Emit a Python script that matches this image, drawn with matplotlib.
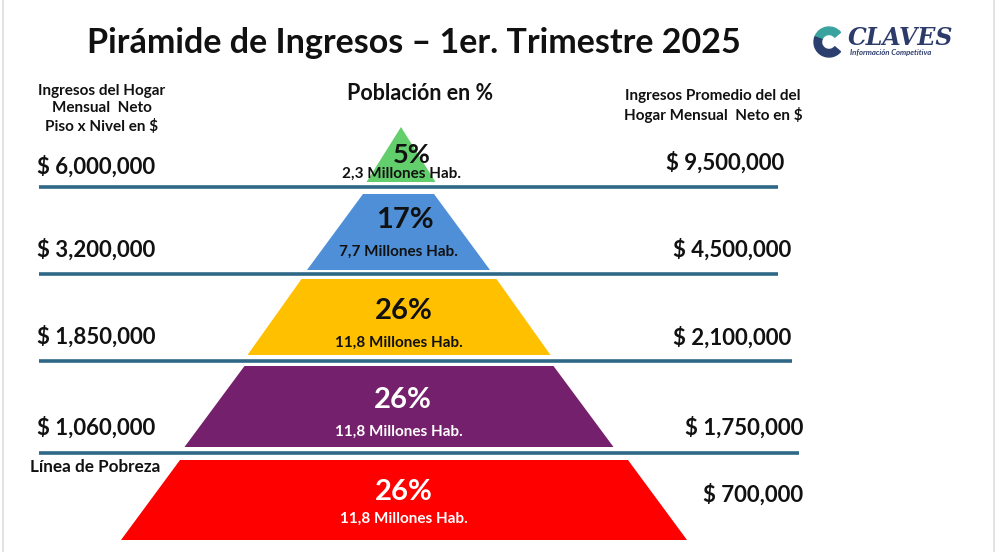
import matplotlib.pyplot as plt
from matplotlib.patches import Polygon, Wedge

plt.rcParams['font.family'] = ['Lato', 'DejaVu Sans']

# data
pct_labels = ["5%", "17%", "26%", "26%", "26%"]
pop_labels = ["2,3 Millones Hab.", "7,7 Millones Hab.", "11,8 Millones Hab.",
              "11,8 Millones Hab.", "11,8 Millones Hab."]
floor_income = ["$ 6,000,000", "$ 3,200,000", "$ 1,850,000", "$ 1,060,000"]
avg_income = ["$ 9,500,000", "$ 4,500,000", "$ 2,100,000", "$ 1,750,000", "$ 700,000"]
level_colors = ["#63cf6c", "#4e8fd8", "#ffc000", "#75206c", "#ff0000"]
text_colors = ["#111111", "#111111", "#111111", "white", "white"]

# layout (pixel space of the slide)
# (center x, y top, y bottom, half width top, half width bottom)
levels = [(401, 127, 182, 0, 34.5),
          (398.5, 194, 270, 35.5, 91.5),
          (399, 279, 355, 97.5, 151.5),
          (399, 366, 447, 154.5, 214.5),
          (404, 460, 540, 224, 283)]
pct_dx = [11, 6, 5, 4, 0]
pct_y = [155, 220, 311, 400, 492]
pop_y = [174, 252, 343, 432, 519]
pct_size = [19.5, 21, 21, 21, 21]
sep_lines = [(187, 39, 778), (274, 39, 778), (361, 39, 792), (453, 39, 799)]
floor_y = [167, 250, 337, 428]
avg_pos = [(784, 163), (791, 250), (791, 338), (803, 428), (803, 495)]

fig = plt.figure(figsize=(10, 5.52), dpi=100)
ax = fig.add_axes([0, 0, 1, 1])
ax.set_xlim(0, 1000)
ax.set_ylim(552, 0)
ax.axis('off')

# slide borders
ax.plot([3, 3], [0, 552], color="#dddddd", lw=1.2)
ax.plot([994, 994], [0, 552], color="#dddddd", lw=1.2)

ax.text(414, 43, "Pirámide de Ingresos – 1er. Trimestre 2025", ha='center', va='center',
        fontsize=24.5, fontweight='bold', color="#111111")

# logo
ax.add_patch(Wedge((829, 42), 15, 200, 320, width=7.5, color="#3aa3a0"))
ax.add_patch(Wedge((829, 42), 15, 40, 200, width=7.5, color="#2b3f6e"))
ax.text(848, 38, "CLAVES", fontsize=17, fontweight='bold', style='italic',
        family=['DejaVu Serif'], color="#2d3b6b", va='center', ha='left')
ax.text(850, 52, "Información Competitiva", fontsize=5.6, fontweight='bold', style='italic',
        color="#2d3b6b", va='center', ha='left')

# headers
ax.text(102, 109, "Ingresos del Hogar\nMensual  Neto\nPiso x Nivel en $", ha='center', va='center',
        fontsize=11, fontweight='bold', linespacing=1.3, color="#111111")
ax.text(420, 94, "Población en %", ha='center', va='center', fontsize=15.5, fontweight='bold',
        color="#111111")
ax.text(713, 106, "Ingresos Promedio del del\nHogar Mensual  Neto en $", ha='center', va='center',
        fontsize=11, fontweight='bold', linespacing=1.3, color="#111111")

# pyramid levels
for i, (cx, yt, yb, ht, hb) in enumerate(levels):
    pts = [(cx - ht, yt), (cx + ht, yt), (cx + hb, yb), (cx - hb, yb)]
    ax.add_patch(Polygon(pts, closed=True, facecolor=level_colors[i], edgecolor='none'))
    ax.text(cx + pct_dx[i], pct_y[i], pct_labels[i], ha='center', va='center',
            fontsize=pct_size[i], fontweight='bold', color=text_colors[i])
    ax.text(cx, pop_y[i], pop_labels[i], ha='center', va='center', fontsize=11,
            fontweight='bold', color=text_colors[i])

for y, x0, x1 in sep_lines:
    ax.plot([x0, x1], [y, y], color="#2f6886", lw=2.6, solid_capstyle='butt')

for lab, y in zip(floor_income, floor_y):
    ax.text(37, y, lab, ha='left', va='center', fontsize=16, fontweight='bold', color="#111111")
ax.text(30, 467, "Línea de Pobreza", ha='left', va='center', fontsize=12.3, fontweight='bold',
        color="#111111")

for lab, (x, y) in zip(avg_income, avg_pos):
    ax.text(x, y, lab, ha='right', va='center', fontsize=16, fontweight='bold', color="#111111")

fig.savefig("out.png", dpi=100)
